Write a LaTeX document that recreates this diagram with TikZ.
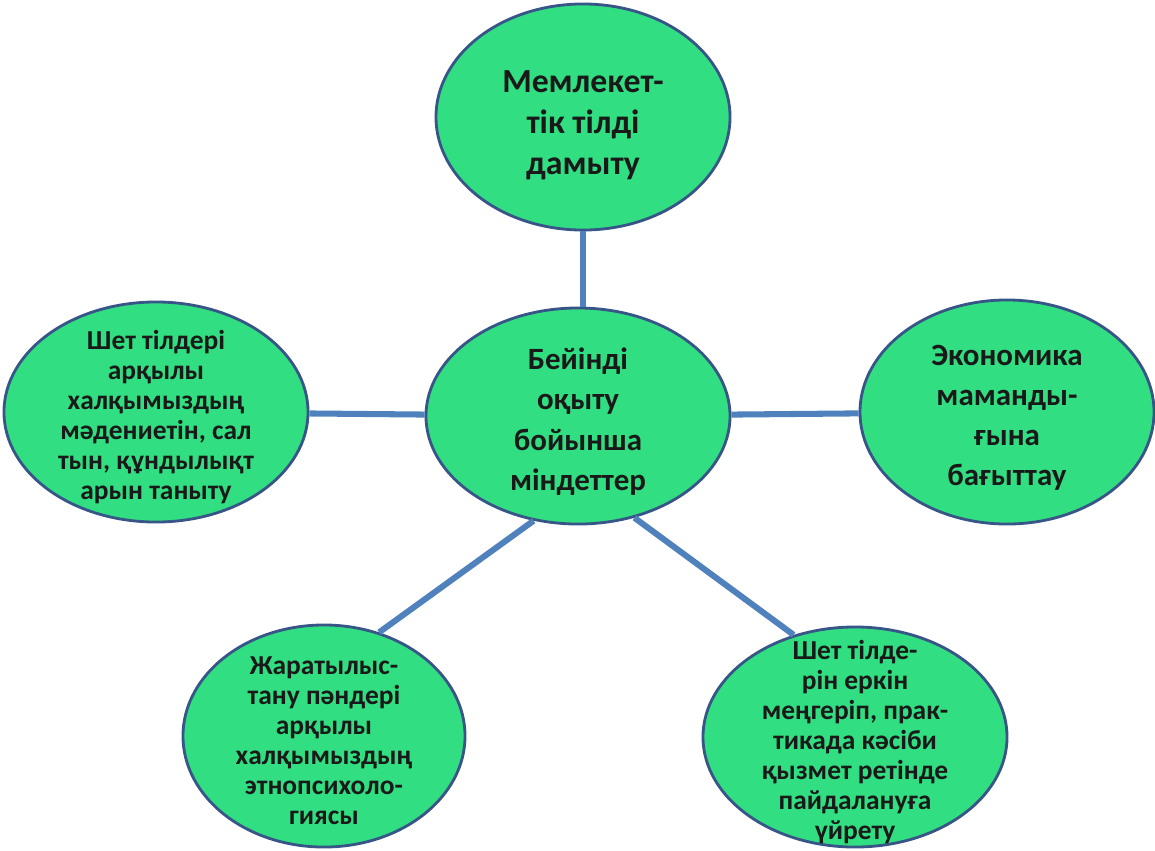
\documentclass[tikz,border=0pt]{standalone}
\usepackage{fontspec}
\setmainfont{Carlito}
\usetikzlibrary{shapes}
\definecolor{leaf}{RGB}{50,222,130}
\definecolor{rim}{RGB}{55,85,135}
\definecolor{spoke}{RGB}{79,129,189}
\definecolor{ink}{RGB}{25,25,25}
\begin{document}
\begin{tikzpicture}[x=0.025cm,y=-0.025cm,
    goal/.style={ellipse,draw=rim,fill=leaf,line width=2pt,inner sep=0pt},
    big/.style={align=center,text=ink,yshift=-0.14cm,font=\bfseries\fontsize{22}{28.5}\selectfont},
    small/.style={align=center,text=ink,yshift=-0.12cm,font=\bfseries\fontsize{19.5}{21.3}\selectfont},
    link/.style={draw=spoke,line width=4.3pt}]
    \useasboundingbox (0,0) rectangle (1155,850);
    \node[goal,minimum width=7.6cm,minimum height=5.4cm,
      label={[big]center:{Бейінді\\оқыту\\бойынша\\міндеттер}}] (mid) at (578,416) {};
    \node[goal,minimum width=7.35cm,minimum height=5.65cm,
      label={[big,yshift=-0.06cm,font=\bfseries\fontsize{24}{29}\selectfont]center:{Мемлекет-\\тік тілді\\дамыту}}] (top) at (583,117) {};
    \node[goal,minimum width=7.6cm,minimum height=5.5cm,
      label={[small]center:{Шет тілдері\\арқылы\\халқымыздың\\мәдениетін, сал\\тын, құндылықт\\арын таныту}}] (left) at (156,412) {};
    \node[goal,minimum width=7.35cm,minimum height=5.6cm,
      label={[big]center:{Экономика\\маманды-\\ғына\\бағыттау}}] (right) at (1007,412) {};
    \node[goal,minimum width=7.05cm,minimum height=5.55cm,
      label={[small]center:{Жаратылыс-\\тану пәндері\\арқылы\\халқымыздың\\этнопсихоло-\\гиясы}}] (bl) at (324,736) {};
    \node[goal,minimum width=7.6cm,minimum height=5.5cm,
      label={[small]center:{Шет тілде-\\рін еркін\\меңгеріп, прак-\\тикада кәсіби\\қызмет ретінде\\пайдалануға\\үйрету}}] (br) at (855,737) {};
    \draw[link] (top.south) -- (top.south |- mid.north);
    \draw[link] (left) -- (mid);
    \draw[link] (mid) -- (right);
    \draw[link] (mid.247) -- (bl.62);
    \draw[link] (mid.299) -- (br.121);
\end{tikzpicture}
\end{document}
